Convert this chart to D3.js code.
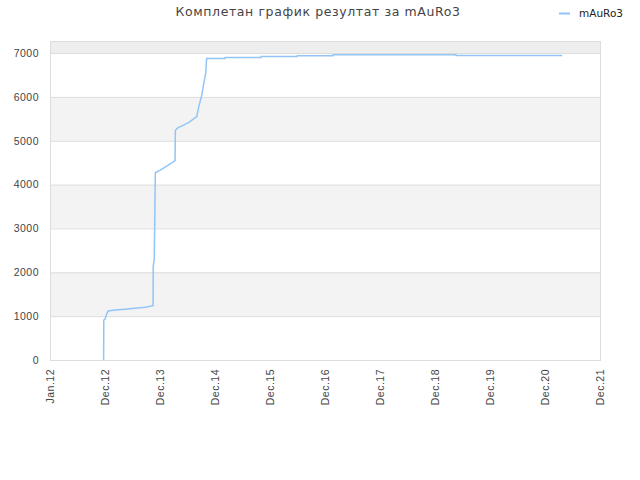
<!DOCTYPE html>
<html lang="sr">
<head>
    <meta charset="UTF-8">
    <title>Комплетан график резултат за mAuRo3</title>
    <script src="https://d3js.org/d3.v7.min.js"></script>
    <style>
        body {
            margin: 0;
            background-color: #ffffff;
            font-family: 'DejaVu Sans', sans-serif;
        }
        .title {
            fill: #444;
            font-size: 12.5px;
            letter-spacing: 0.6px;
        }
        .tick text {
            fill: #444;
            font-size: 10.5px;
            letter-spacing: 0.5px;
        }
        .legend text {
            fill: #222;
            font-size: 10.5px;
        }
    </style>
</head>
<body>
    <div id="chart"></div>
    <script>
        // Series: date of change and total score
        const dates = [
            "2012-12-22", "2012-12-23", "2013-01-01", "2013-01-10", "2013-01-20",
            "2013-03-07", "2013-05-13", "2013-07-18", "2013-09-23", "2013-11-15",
            "2013-11-16", "2013-11-23", "2013-11-30", "2014-01-01", "2014-02-03",
            "2014-03-08", "2014-04-10", "2014-04-12", "2014-04-30", "2014-06-02",
            "2014-07-11", "2014-08-20", "2014-09-01", "2014-09-16", "2014-10-04",
            "2014-10-16", "2014-10-31", "2014-11-05", "2015-03-07", "2015-03-08",
            "2015-11-01", "2015-11-02", "2016-06-28", "2016-06-29", "2017-02-21",
            "2017-02-22", "2019-05-18", "2019-05-19", "2021-04-22"
        ];
        const scores = [
            0, 912, 935, 1040, 1117,
            1140, 1160, 1180, 1205, 1240,
            2140, 2300, 4270, 4330, 4400,
            4470, 4550, 5240, 5300, 5350,
            5420, 5520, 5550, 5800, 6040,
            6280, 6540, 6877, 6877, 6900,
            6900, 6922, 6922, 6938, 6938,
            6961, 6961, 6945, 6945
        ];
        const seriesName = "mAuRo3";
        const titleText = "Комплетан график резултат за mAuRo3";

        // Axis ticks
        const xTickDates = [
            "2012-01-01", "2012-12-31", "2013-12-31", "2014-12-31", "2015-12-31",
            "2016-12-30", "2017-12-30", "2018-12-30", "2019-12-30", "2020-12-29", "2021-12-29"
        ];
        const yTicks = [0, 1000, 2000, 3000, 4000, 5000, 6000, 7000];
        const yMax = 7275;

        const W = 640, H = 480;
        const margin = { top: 41, right: 40, bottom: 120, left: 50 };
        const width = W - margin.left - margin.right;
        const height = H - margin.top - margin.bottom;

        const parse = d3.timeParse("%Y-%m-%d");
        const data = dates.map((d, i) => ({ date: parse(d), value: scores[i] }));
        const tickDates = xTickDates.map(parse);

        const svg = d3.select("#chart")
            .append("svg")
            .attr("width", W)
            .attr("height", H);

        const g = svg.append("g")
            .attr("transform", `translate(${margin.left},${margin.top})`);

        const x = d3.scaleTime()
            .domain([tickDates[0], tickDates[tickDates.length - 1]])
            .range([0, width]);
        const y = d3.scaleLinear()
            .domain([0, yMax])
            .range([height, 0]);

        // Alternating bands
        const bandEdges = yTicks.concat([yMax]);
        g.selectAll(".band")
            .data(d3.range(bandEdges.length - 1))
            .enter()
            .append("rect")
            .attr("class", "band")
            .attr("x", 0)
            .attr("width", width)
            .attr("y", i => y(bandEdges[i + 1]))
            .attr("height", i => y(bandEdges[i]) - y(bandEdges[i + 1]))
            .attr("fill", i => i === bandEdges.length - 2 ? "#eeeeee" : (i % 2 === 1 ? "#f3f3f3" : "#ffffff"));

        // Grid lines
        g.selectAll(".grid")
            .data(yTicks)
            .enter()
            .append("line")
            .attr("x1", 0)
            .attr("x2", width)
            .attr("y1", d => y(d) + 0.5)
            .attr("y2", d => y(d) + 0.5)
            .attr("stroke", "#dddddd");

        // Plot frame
        g.append("rect")
            .attr("x", 0.5)
            .attr("y", 0.5)
            .attr("width", width)
            .attr("height", height)
            .attr("fill", "none")
            .attr("stroke", "#dddddd");

        // Y axis
        const yAxis = d3.axisLeft(y)
            .tickValues(yTicks)
            .tickFormat(d3.format("d"))
            .tickSize(0)
            .tickPadding(11);
        g.append("g")
            .call(yAxis)
            .call(a => a.select(".domain").remove());

        // X axis
        const xAxis = d3.axisBottom(x)
            .tickValues(tickDates)
            .tickSize(0)
            .tickFormat(d3.timeFormat("%b.%y"));
        g.append("g")
            .attr("transform", `translate(0,${height})`)
            .call(xAxis)
            .call(a => a.select(".domain").remove())
            .selectAll("text")
            .attr("transform", "rotate(-90)")
            .attr("text-anchor", "end")
            .attr("x", -9)
            .attr("y", 0)
            .attr("dy", "0.35em");

        // Score line
        const line = d3.line()
            .x(d => x(d.date))
            .y(d => y(d.value));

        g.append("path")
            .datum(data)
            .attr("fill", "none")
            .attr("stroke", "#92c5f6")
            .attr("stroke-width", 1.5)
            .attr("d", line);

        // Title
        svg.append("text")
            .attr("class", "title")
            .attr("x", 318)
            .attr("y", 16)
            .attr("text-anchor", "middle")
            .text(titleText);

        // Legend
        const legend = svg.append("g").attr("class", "legend");
        legend.append("line")
            .attr("x1", 559)
            .attr("x2", 570)
            .attr("y1", 13.5)
            .attr("y2", 13.5)
            .attr("stroke", "#92c5f6")
            .attr("stroke-width", 2);
        legend.append("text")
            .attr("x", 579)
            .attr("y", 17)
            .text(seriesName);
    </script>
</body>
</html>
